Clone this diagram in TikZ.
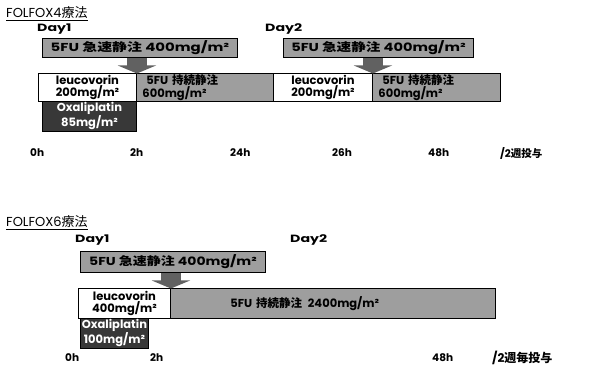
\documentclass[tikz,border=0pt]{standalone}
\usepackage{fontspec}
\usepackage{graphicx}
\setmainfont{Poppins}
\newfontfamily\jp{Noto Sans CJK JP}
\newcommand\widen[2]{\scalebox{#1}[1]{#2}}
\usetikzlibrary{arrows.meta,calc}
\begin{document}
\begin{tikzpicture}[x=1pt,y=-1pt,
  box/.style={draw=black, line width=0.9pt, inner sep=0pt, anchor=north west, align=center,
    font=\bfseries\fontsize{11.5}{11.5}\selectfont},
  grey/.style={box, fill=black!38},
  white/.style={box, fill=white},
  dark/.style={box, fill=black!78, text=white},
  blockarrow/.style={draw=black!62, line width=20pt,
    -{Triangle[width=38pt,length=8pt]}, shorten >=-0.5pt},
  lbl/.style={anchor=west, inner sep=0pt, font=\bfseries\fontsize{10.5}{11}\selectfont},
  ttl/.style={anchor=west, inner sep=0pt, font=\fontsize{13}{14}\selectfont},
]
\useasboundingbox (0,0) rectangle (603,371);

% ---------- FOLFOX4 ----------
\node[ttl] (t1) at (6,14) {\underline{FOLFOX4{\jp 療法}}};
\node[lbl] (d11) at (37,29) {\widen{1.35}{Day1}};
\node[lbl] (d12) at (265,29) {\widen{1.35}{Day2}};

\node[grey, minimum width=195, minimum height=19] (b1) at (42,38) {\widen{1.3}{5FU {\jp 急速静注} 400mg/m²}};
\node[grey, minimum width=190, minimum height=19] (b2) at (283,38) {\widen{1.27}{5FU {\jp 急速静注} 400mg/m²}};

\node[white, minimum width=98, minimum height=28] (lv1) at (38,73) {leucovorin\\200mg/m²};
\node[grey, minimum width=137, minimum height=28, text width=125, inner xsep=6pt, align=left] (inf1) at (136,73) {\hspace*{4pt}5FU {\jp 持続静注}\\600mg/m²};
\node[white, minimum width=99, minimum height=28] (lv2) at (273,73) {leucovorin\\200mg/m²};
\node[grey, minimum width=128, minimum height=28, text width=116, inner xsep=6pt, align=left] (inf2) at (372,73) {\hspace*{4pt}5FU {\jp 持続静注}\\600mg/m²};
\node[dark, minimum width=94, minimum height=30] (ox1) at (42,101) {Oxaliplatin\\85mg/m²};

\draw[blockarrow] (b1.south -| lv1.east) -- (lv1.north east);
\draw[blockarrow] (b2.south -| lv2.east) -- (lv2.north east);

\node[lbl] (h10) at (30,153) {0h};
\node[lbl] (h12) at (130,153) {2h};
\node[lbl] (h124) at (230,153) {24h};
\node[lbl] (h126) at (332,153) {26h};
\node[lbl] (h148) at (428,153) {48h};
\node[lbl] (p1) at (500,153) {/2{\jp 週投与}};

% ---------- FOLFOX6 ----------
\node[ttl] (t2) at (6,223) {\underline{FOLFOX6{\jp 療法}}};
\node[lbl] (d21) at (75,240) {\widen{1.35}{Day1}};
\node[lbl] (d22) at (290,240) {\widen{1.35}{Day2}};

\node[grey, minimum width=185, minimum height=21] (b3) at (80,251) {\widen{1.22}{5FU {\jp 急速静注} 400mg/m²}};
\node[white, minimum width=92, minimum height=30] (lv3) at (78,288) {leucovorin\\400mg/m²};
\node[grey, minimum width=325, minimum height=30, text width=289, inner xsep=18pt, align=left] (inf3) at (170,288) {\hspace*{42pt}5FU {\jp 持続静注}\enspace 2400mg/m²};
\node[dark, minimum width=68, minimum height=30] (ox3) at (80,318) {Oxaliplatin\\100mg/m²};

\draw[blockarrow] (b3.south -| lv3.east) -- (lv3.north east);

\node[lbl] (h20) at (65,358) {0h};
\node[lbl] (h22) at (150,358) {2h};
\node[lbl] (h248) at (432,358) {48h};
\node[lbl, font=\bfseries\fontsize{12}{12}\selectfont] (p2) at (492,358) {/2{\jp 週毎投与}};
\end{tikzpicture}
\end{document}
